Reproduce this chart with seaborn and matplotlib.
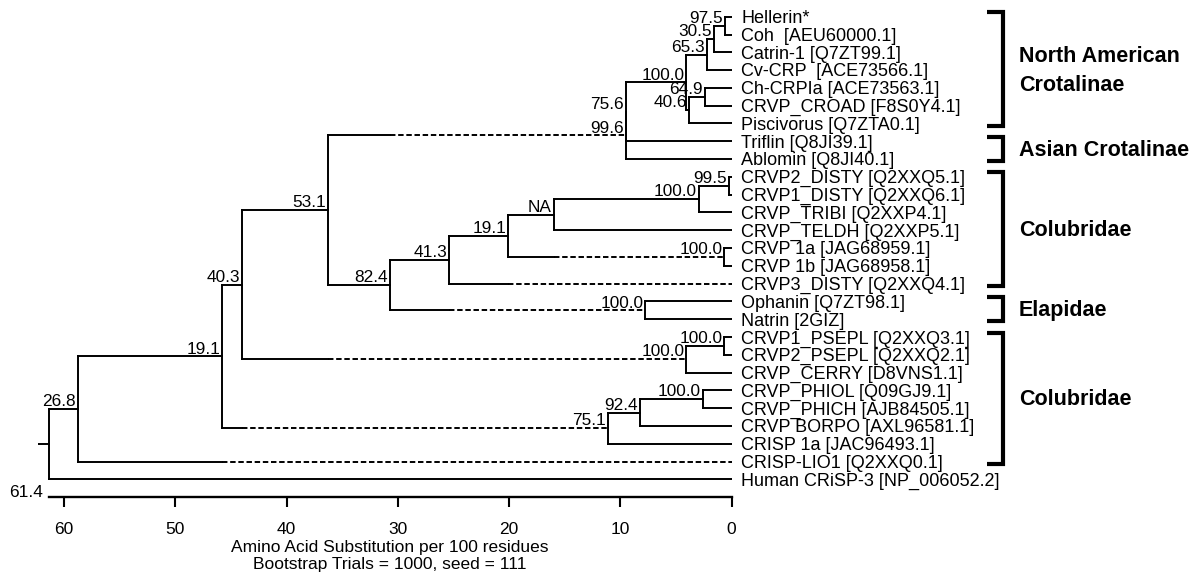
import pandas as pd
import seaborn as sns
import matplotlib.pyplot as plt
from matplotlib import transforms

# Leaf labels, top to bottom
leaves = ['Hellerin*', 'Coh  [AEU60000.1]', 'Catrin-1 [Q7ZT99.1]', 'Cv-CRP  [ACE73566.1]',
          'Ch-CRPIa [ACE73563.1]', 'CRVP_CROAD [F8S0Y4.1]', 'Piscivorus [Q7ZTA0.1]',
          'Triflin [Q8JI39.1]', 'Ablomin [Q8JI40.1]',
          'CRVP2_DISTY [Q2XXQ5.1]', 'CRVP1_DISTY [Q2XXQ6.1]', 'CRVP_TRIBI [Q2XXP4.1]',
          'CRVP_TELDH [Q2XXP5.1]', 'CRVP 1a [JAG68959.1]', 'CRVP 1b [JAG68958.1]',
          'CRVP3_DISTY [Q2XXQ4.1]', 'Ophanin [Q7ZT98.1]', 'Natrin [2GIZ]',
          'CRVP1_PSEPL [Q2XXQ3.1]', 'CRVP2_PSEPL [Q2XXQ2.1]', 'CRVP_CERRY [D8VNS1.1]',
          'CRVP_PHIOL [Q09GJ9.1]', 'CRVP_PHICH [AJB84505.1]', 'CRVP BORPO [AXL96581.1]',
          'CRISP 1a [JAC96493.1]', 'CRISP-LIO1 [Q2XXQ0.1]', 'Human CRiSP-3 [NP_006052.2]']

# Internal nodes (children listed before parents); ints are leaf indices
node_ids = ['n1', 'n2', 'n3', 'n4', 'n5', 'n6', 'n7', 'n8', 'n9', 'n10', 'n11', 'n12', 'n13',
            'n14', 'n15', 'n16', 'n17', 'n18', 'n19', 'n20', 'n21', 'n22', 'n23', 'n24', 'n25',
            'root']
node_kids = [(0, 1), ('n1', 2), ('n2', 3), (4, 5), ('n4', 6), ('n3', 'n5'), ('n6', 7), ('n7', 8),
             (9, 10), ('n9', 11), ('n10', 12), (13, 14), ('n11', 'n12'), ('n13', 15), (16, 17),
             ('n14', 'n15'), ('n8', 'n16'), (18, 19), ('n18', 20), ('n17', 'n19'), (21, 22),
             ('n21', 23), ('n22', 24), ('n20', 'n23'), ('n24', 25), ('n25', 26)]
node_height = [0.63, 1.6, 2.25, 2.4, 3.8, 4.05, 9.5, 9.5, 0.25, 2.95, 16.0, 0.65, 20.1,
               25.4, 7.75, 30.75, 36.3, 0.65, 4.05, 44.0, 2.6, 8.25, 11.1, 45.8, 58.8, 61.4]
node_support = ['97.5', '30.5', '65.3', '64.9', '40.6', '100.0', '75.6', '99.6', '99.5', '100.0',
                'NA', '100.0', '19.1', '41.3', '100.0', '82.4', '53.1', '100.0', '100.0', '40.3',
                '100.0', '92.4', '75.1', '19.1', '26.8', '61.4']
# branches drawn partly dashed (dashes start at the sibling's height)
dashed_branches = ['n8', 'n15', 15, 'n12', 'n19', 'n23', 25]

ticks = [0, 10, 20, 30, 40, 50, 60]

group_names = ['North American\nCrotalinae', 'Asian Crotalinae', 'Colubridae', 'Elapidae', 'Colubridae']
group_first = [0, 7, 9, 16, 18]
group_last = [6, 8, 15, 17, 25]

# ---- build the tree layout
height = {i: 0.0 for i in range(len(leaves))}
ypos = {i: float(i) for i in range(len(leaves))}
for nid, kids, h in zip(node_ids, node_kids, node_height):
    height[nid] = h
    ypos[nid] = sum(ypos[k] for k in kids) / len(kids)

rows = []
seg = 0


def add(x0, x1, y0, y1, kind):
    global seg
    rows.append((seg, x0, y0, kind))
    rows.append((seg, x1, y1, kind))
    seg += 1


for nid, kids in zip(node_ids, node_kids):
    h = height[nid]
    add(h, h, ypos[kids[0]], ypos[kids[-1]], 'solid')
    for k in kids:
        if k in dashed_branches:
            sib = [s for s in kids if s != k][0]
            add(h, height[sib], ypos[k], ypos[k], 'solid')
            add(height[sib], height[k], ypos[k], ypos[k], 'dashed')
        else:
            add(h, height[k], ypos[k], ypos[k], 'solid')
root_h = height['root']
add(root_h + 1.0, root_h, ypos['root'], ypos['root'], 'solid')

segs = pd.DataFrame(rows, columns=['seg', 'x', 'y', 'kind'])

# ---- draw
sns.set_theme(style='white')
plt.rcParams['font.family'] = ['Liberation Sans', 'DejaVu Sans']
plt.rcParams['text.color'] = 'black'
plt.rcParams['axes.labelcolor'] = 'black'
plt.rcParams['xtick.color'] = 'black'

fig = plt.figure(figsize=(12.02, 5.77), dpi=100)
ax = fig.add_axes([0.0316, 0.1381, 0.577, 0.8619])

sns.lineplot(data=segs, x='x', y='y', units='seg', estimator=None, sort=False,
             style='kind', dashes={'solid': '', 'dashed': (2.8, 1.4)},
             color='black', linewidth=1.4, legend=False, ax=ax,
             solid_capstyle='projecting')

ax.set_xlim(62.36, 0)
ax.set_ylim(27.01, -0.939)

for nid, lab in zip(node_ids[:-1], node_support[:-1]):
    ax.annotate(lab, (height[nid], ypos[nid]), xytext=(-1.3, 2.0), textcoords='offset points',
                ha='right', va='baseline', fontsize=12.4)

for i, name in enumerate(leaves):
    ax.annotate(name, (0, i), xytext=(7.0, -4.6), textcoords='offset points',
                ha='left', va='baseline', fontsize=13, annotation_clip=False)

bottom_tr = transforms.blended_transform_factory(ax.transData, ax.transAxes)
ax.annotate(node_support[-1], (root_h, 0), xycoords=bottom_tr, xytext=(-4.3, 0),
            textcoords='offset points', ha='right', va='baseline', fontsize=12.5,
            annotation_clip=False)

# brackets with clade names
side_tr = ax.get_yaxis_transform()
for name, a, b in zip(group_names, group_first, group_last):
    top, bot = a - 0.25, b + 0.12
    ax.plot([1.3684, 1.3915, 1.3915, 1.3684], [top, top, bot, bot], transform=side_tr,
            color='black', lw=3, clip_on=False, solid_joinstyle='miter', solid_capstyle='butt')
    ax.text(1.4145, (top + bot) / 2 + 0.1, name, transform=side_tr, ha='left', va='center',
            fontsize=15.5, fontweight='bold', linespacing=1.5)

# axis
for s in ['top', 'right', 'left']:
    ax.spines[s].set_visible(False)
ax.spines['bottom'].set_bounds(0, root_h)
ax.spines['bottom'].set_linewidth(1.7)
ax.spines['bottom'].set_color('black')
ax.set_yticks([])
ax.set_ylabel('')
ax.set_xticks(ticks)
ax.set_xticklabels([str(t) for t in ticks])
ax.tick_params(axis='x', direction='out', length=7.2, width=1.5, pad=10.6, labelsize=12.5,
               bottom=True)
ax.set_xlabel('Amino Acid Substitution per 100 residues\nBootstrap Trials = 1000, seed = 111',
              fontsize=12.5, linespacing=1.13)
ax.xaxis.set_label_coords(root_h / 2, -0.0859, transform=bottom_tr)

fig.savefig('out.png', dpi=100)
